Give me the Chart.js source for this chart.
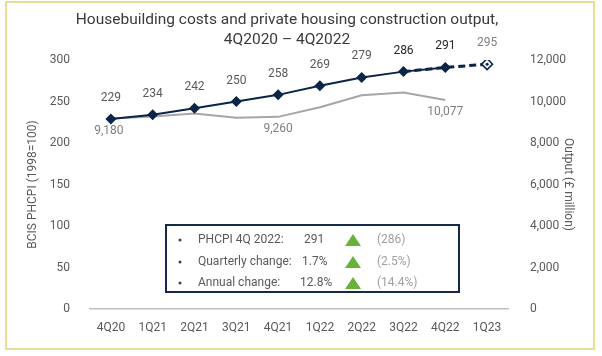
<!DOCTYPE html>
<html><head><meta charset="utf-8">
<script src="https://cdn.jsdelivr.net/npm/chart.js@4"></script>
<style>html,body{margin:0;padding:0;background:#fff}#w{position:relative;width:602px;height:356px}</style>
</head><body><div id="w"><canvas id="c" width="602" height="356"></canvas></div>
<script>
const categories = ['4Q20','1Q21','2Q21','3Q21','4Q21','1Q22','2Q22','3Q22','4Q22','1Q23'];
const phcpi = [229,234,242,250,258,269,279,286,291,null];
const phcpiForecast = [null,null,null,null,null,null,null,286,291,295];
const output = [9180,9280,9420,9220,9260,9720,10300,10430,10077,null];
const outputLabelIdx = [0,4,8];
const boxLabels = ['PHCPI 4Q 2022:','Quarterly change:','Annual change:'];
const boxValues = ['291','1.7%','12.8%'];
const boxPrev = ['(286)','(2.5%)','(14.4%)'];
const titleLines = ['Housebuilding costs and private housing construction output,','4Q2020 \u2013 4Q2022'];

const NAVY = '#0b2447';
const FONT = 'Roboto, "Liberation Sans", sans-serif';

const overlay = {
  id: 'overlay',
  afterDatasetsDraw(chart) {
    const ctx = chart.ctx;
    ctx.save();
    // frame
    ctx.strokeStyle = '#e9de95';
    ctx.lineWidth = 2;
    ctx.strokeRect(6, 2, 588, 347);
    // title
    ctx.fillStyle = '#3a3a3a';
    ctx.font = '15.5px ' + FONT;
    ctx.textAlign = 'center';
    ctx.textBaseline = 'middle';
    ctx.fillText(titleLines[0], 287, 20);
    ctx.fillText(titleLines[1], 287, 40);
    // PHCPI labels
    ctx.font = '12px ' + FONT;
    const m0 = chart.getDatasetMeta(0);
    phcpi.forEach((v, i) => {
      if (v == null) return;
      const p = m0.data[i];
      ctx.fillStyle = (i >= 7) ? '#262626' : '#595959';
      ctx.fillText(String(v), p.x, p.y - 21);
    });
    const m1 = chart.getDatasetMeta(1);
    const last = phcpiForecast.length - 1;
    ctx.fillStyle = '#7f7f7f';
    ctx.fillText(String(phcpiForecast[last]), m1.data[last].x, m1.data[last].y - 21);
    // output labels
    const m2 = chart.getDatasetMeta(3);
    ctx.fillStyle = '#7f7f7f';
    outputLabelIdx.forEach(i => {
      const p = m2.data[i];
      ctx.fillText(output[i].toLocaleString('en-GB'), p.x - (i === 0 ? 2 : 0), p.y + 12);
    });
    // box
    ctx.fillStyle = '#fff';
    ctx.fillRect(166, 225, 293, 67);
    ctx.strokeStyle = '#14284b';
    ctx.lineWidth = 2;
    ctx.strokeRect(166, 225, 293, 67);
    const ys = [240, 262, 283];
    const vx = [304, 302, 300];
    ctx.textAlign = 'left';
    ctx.font = '12px ' + FONT;
    boxLabels.forEach((t, i) => {
      ctx.fillStyle = '#404040';
      ctx.beginPath(); ctx.arc(180, ys[i], 1.5, 0, Math.PI * 2); ctx.fill();
      ctx.fillStyle = '#595959';
      ctx.fillText(t, 198, ys[i]);
      ctx.fillText(boxValues[i], vx[i], ys[i]);
      ctx.fillStyle = '#67b33a';
      ctx.beginPath();
      ctx.moveTo(353, ys[i] - 6); ctx.lineTo(361, ys[i] + 6); ctx.lineTo(345, ys[i] + 6); ctx.closePath(); ctx.fill();
      ctx.fillStyle = '#a0a0a0';
      ctx.fillText(boxPrev[i], 377, ys[i]);
    });
    ctx.restore();
  }
};

new Chart(document.getElementById('c'), {
  type: 'line',
  data: {
    labels: categories,
    datasets: [
      { label: 'PHCPI', data: phcpi, yAxisID: 'y', borderColor: NAVY, backgroundColor: NAVY, borderWidth: 2,
        pointStyle: 'rectRot', pointRadius: 5.5, pointBorderWidth: 0, order: 1 },
      { label: 'PHCPI forecast', data: phcpiForecast, yAxisID: 'y', borderColor: NAVY, backgroundColor: '#fff', borderWidth: 3,
        borderDash: [7, 4], pointStyle: 'rectRot', pointRadius: phcpiForecast.map((v, i) => i === phcpiForecast.length - 1 ? 5.5 : 0),
        pointBorderWidth: 1.5, pointBorderColor: NAVY, order: 2 },
      { label: 'forecast dot', data: phcpiForecast.map((v, i) => i === phcpiForecast.length - 1 ? v : null), yAxisID: 'y',
        showLine: false, pointStyle: 'circle', pointRadius: 1.5, backgroundColor: NAVY, borderWidth: 0, order: 0 },
      { label: 'Output', data: output, yAxisID: 'y1', borderColor: '#a6a6a6', borderWidth: 2, pointRadius: 0, order: 3 }
    ]
  },
  options: {
    responsive: false,
    animation: false,
    layout: { padding: { left: 22, right: 23, top: 60, bottom: 0 } },
    plugins: { legend: { display: false }, tooltip: { enabled: false } },
    scales: {
      x: {
        offset: true,
        grid: { display: false },
        border: { color: '#bfbfbf', width: 1.5 },
        ticks: { color: '#595959', font: { size: 12, family: FONT }, padding: 4, maxRotation: 0 },
        afterFit(s) { s.height = 47; }
      },
      y: {
        position: 'left', min: 0, max: 300,
        grid: { display: false }, border: { display: false },
        ticks: { stepSize: 50, color: '#595959', font: { size: 12, family: FONT }, padding: 12 },
        title: { display: true, text: 'BCIS PHCPI (1998=100)', color: '#595959', font: { size: 12, family: FONT } },
        afterFit(s) { s.width = 68; }
      },
      y1: {
        position: 'right', min: 0, max: 12000,
        grid: { display: false }, border: { display: false },
        ticks: { stepSize: 2000, color: '#595959', font: { size: 12, family: FONT }, padding: 14,
          callback: v => Number(v).toLocaleString('en-GB') },
        title: { display: true, text: 'Output (\u00a3 million)', color: '#595959', font: { size: 12, family: FONT } },
        afterFit(s) { s.width = 71; }
      }
    }
  },
  plugins: [overlay]
});
</script>
</body></html>
